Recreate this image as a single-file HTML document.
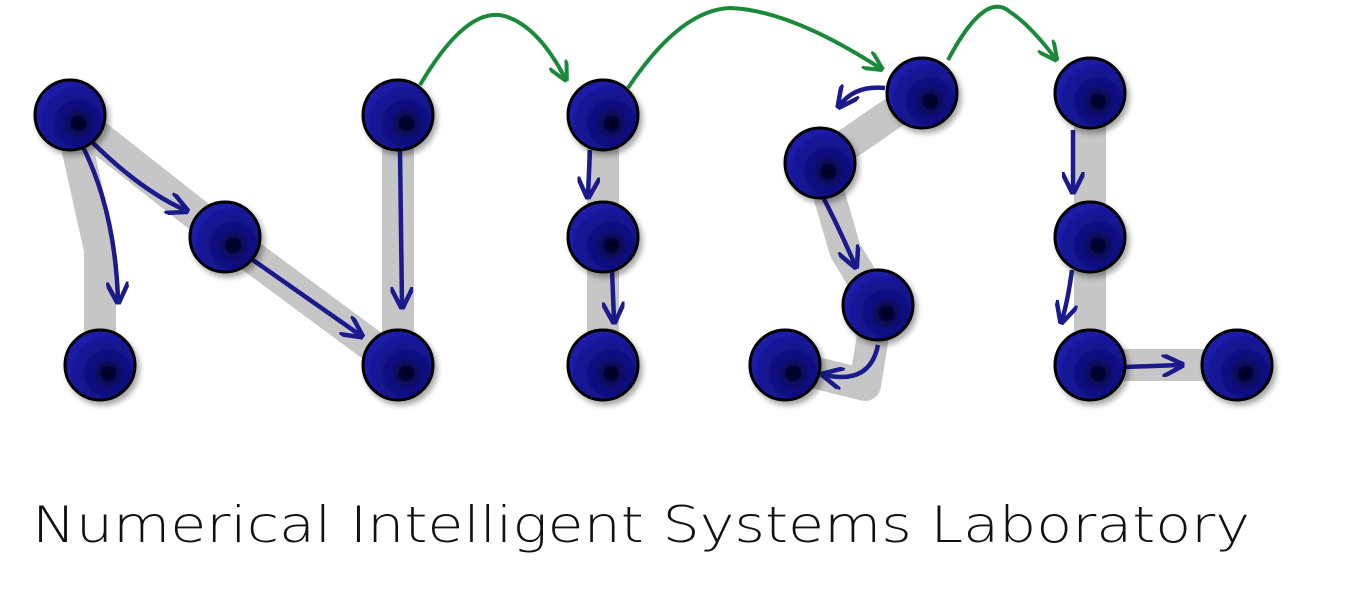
<!DOCTYPE html>
<html><head><meta charset="utf-8"><style>
html,body{margin:0;padding:0;background:#fff;}
svg{display:block;}
</style></head><body>
<svg width="1364" height="604" viewBox="0 0 1364 604">
<defs>
<radialGradient id="ball" cx="0.62" cy="0.62" r="0.6">
<stop offset="0" stop-color="#000010"/>
<stop offset="0.35" stop-color="#0c0c78"/>
<stop offset="1" stop-color="#1c1ca8"/>
</radialGradient>
<filter id="sh" x="-30%" y="-30%" width="160%" height="160%"><feGaussianBlur in="SourceAlpha" stdDeviation="3"/><feOffset dx="3" dy="4"/><feComponentTransfer><feFuncA type="linear" slope="0.35"/></feComponentTransfer><feMerge><feMergeNode/><feMergeNode in="SourceGraphic"/></feMerge></filter>
<marker id="ab" viewBox="0 0 10 10" refX="8" refY="5" markerWidth="5" markerHeight="5" orient="auto"><path d="M0,0 L10,5 L0,10" fill="none" stroke="#1a1a8c" stroke-width="2"/></marker>
<marker id="ag" viewBox="0 0 10 10" refX="8" refY="5" markerWidth="5" markerHeight="5" orient="auto"><path d="M0,0 L10,5 L0,10" fill="none" stroke="#1a8a3a" stroke-width="2"/></marker>
</defs>
<g fill="none" stroke="#c6c6c6" stroke-width="32" stroke-linecap="round" stroke-linejoin="round">
<polyline points="100,365 100,250 70,115 225,237 398,365 398,115"/>
<polyline points="603,115 603,365"/>
<polyline points="922,93 820,163 845,250 878,305 865,385 785,365"/>
<polyline points="1090,93 1090,365 1237,365"/>
</g>
<g fill="none" stroke="#1a1a8c" stroke-width="4.5" marker-end="url(#ab)">
<path d="M82,145 Q115,210 118,300"/>
<path d="M90,140 Q140,190 185,210"/>
<path d="M250,258 L360,335"/>
<path d="M400,150 L402,305"/>
<path d="M590,150 L588,195"/>
<path d="M612,270 L614,320"/>
<path d="M885,88 Q855,85 840,105"/>
<path d="M822,195 Q840,230 855,265"/>
<path d="M878,345 Q870,385 825,375"/>
<path d="M1073,130 L1073,190"/>
<path d="M1072,270 Q1068,300 1062,320"/>
<path d="M1125,367 L1180,365"/>
</g>
<g fill="none" stroke="#1a8a3a" stroke-width="4" marker-end="url(#ag)">
<path d="M420,85 Q470,0 510,18 Q540,30 565,78"/>
<path d="M628,88 Q680,10 730,8 Q790,10 880,68"/>
<path d="M948,60 Q985,-10 1010,12 Q1030,25 1055,58"/>
</g>
<g fill="url(#ball)" stroke="#000" stroke-width="3" filter="url(#sh)">
<circle cx="70" cy="115" r="35"/><circle cx="100" cy="365" r="35"/><circle cx="225" cy="237" r="35"/><circle cx="398" cy="365" r="35"/><circle cx="398" cy="115" r="35"/>
<circle cx="603" cy="115" r="35"/><circle cx="603" cy="237" r="35"/><circle cx="603" cy="365" r="35"/>
<circle cx="922" cy="93" r="35"/><circle cx="820" cy="163" r="35"/><circle cx="878" cy="305" r="35"/><circle cx="785" cy="365" r="35"/>
<circle cx="1090" cy="93" r="35"/><circle cx="1090" cy="237" r="35"/><circle cx="1090" cy="365" r="35"/><circle cx="1237" cy="365" r="35"/>
</g>
<text x="32" y="542" font-family="'DejaVu Sans Light','DejaVu Sans ExtraLight','Liberation Sans', sans-serif" font-weight="200" font-size="50" fill="#111" textLength="1218" lengthAdjust="spacingAndGlyphs">Numerical Intelligent Systems Laboratory</text>
</svg>
</body></html>
